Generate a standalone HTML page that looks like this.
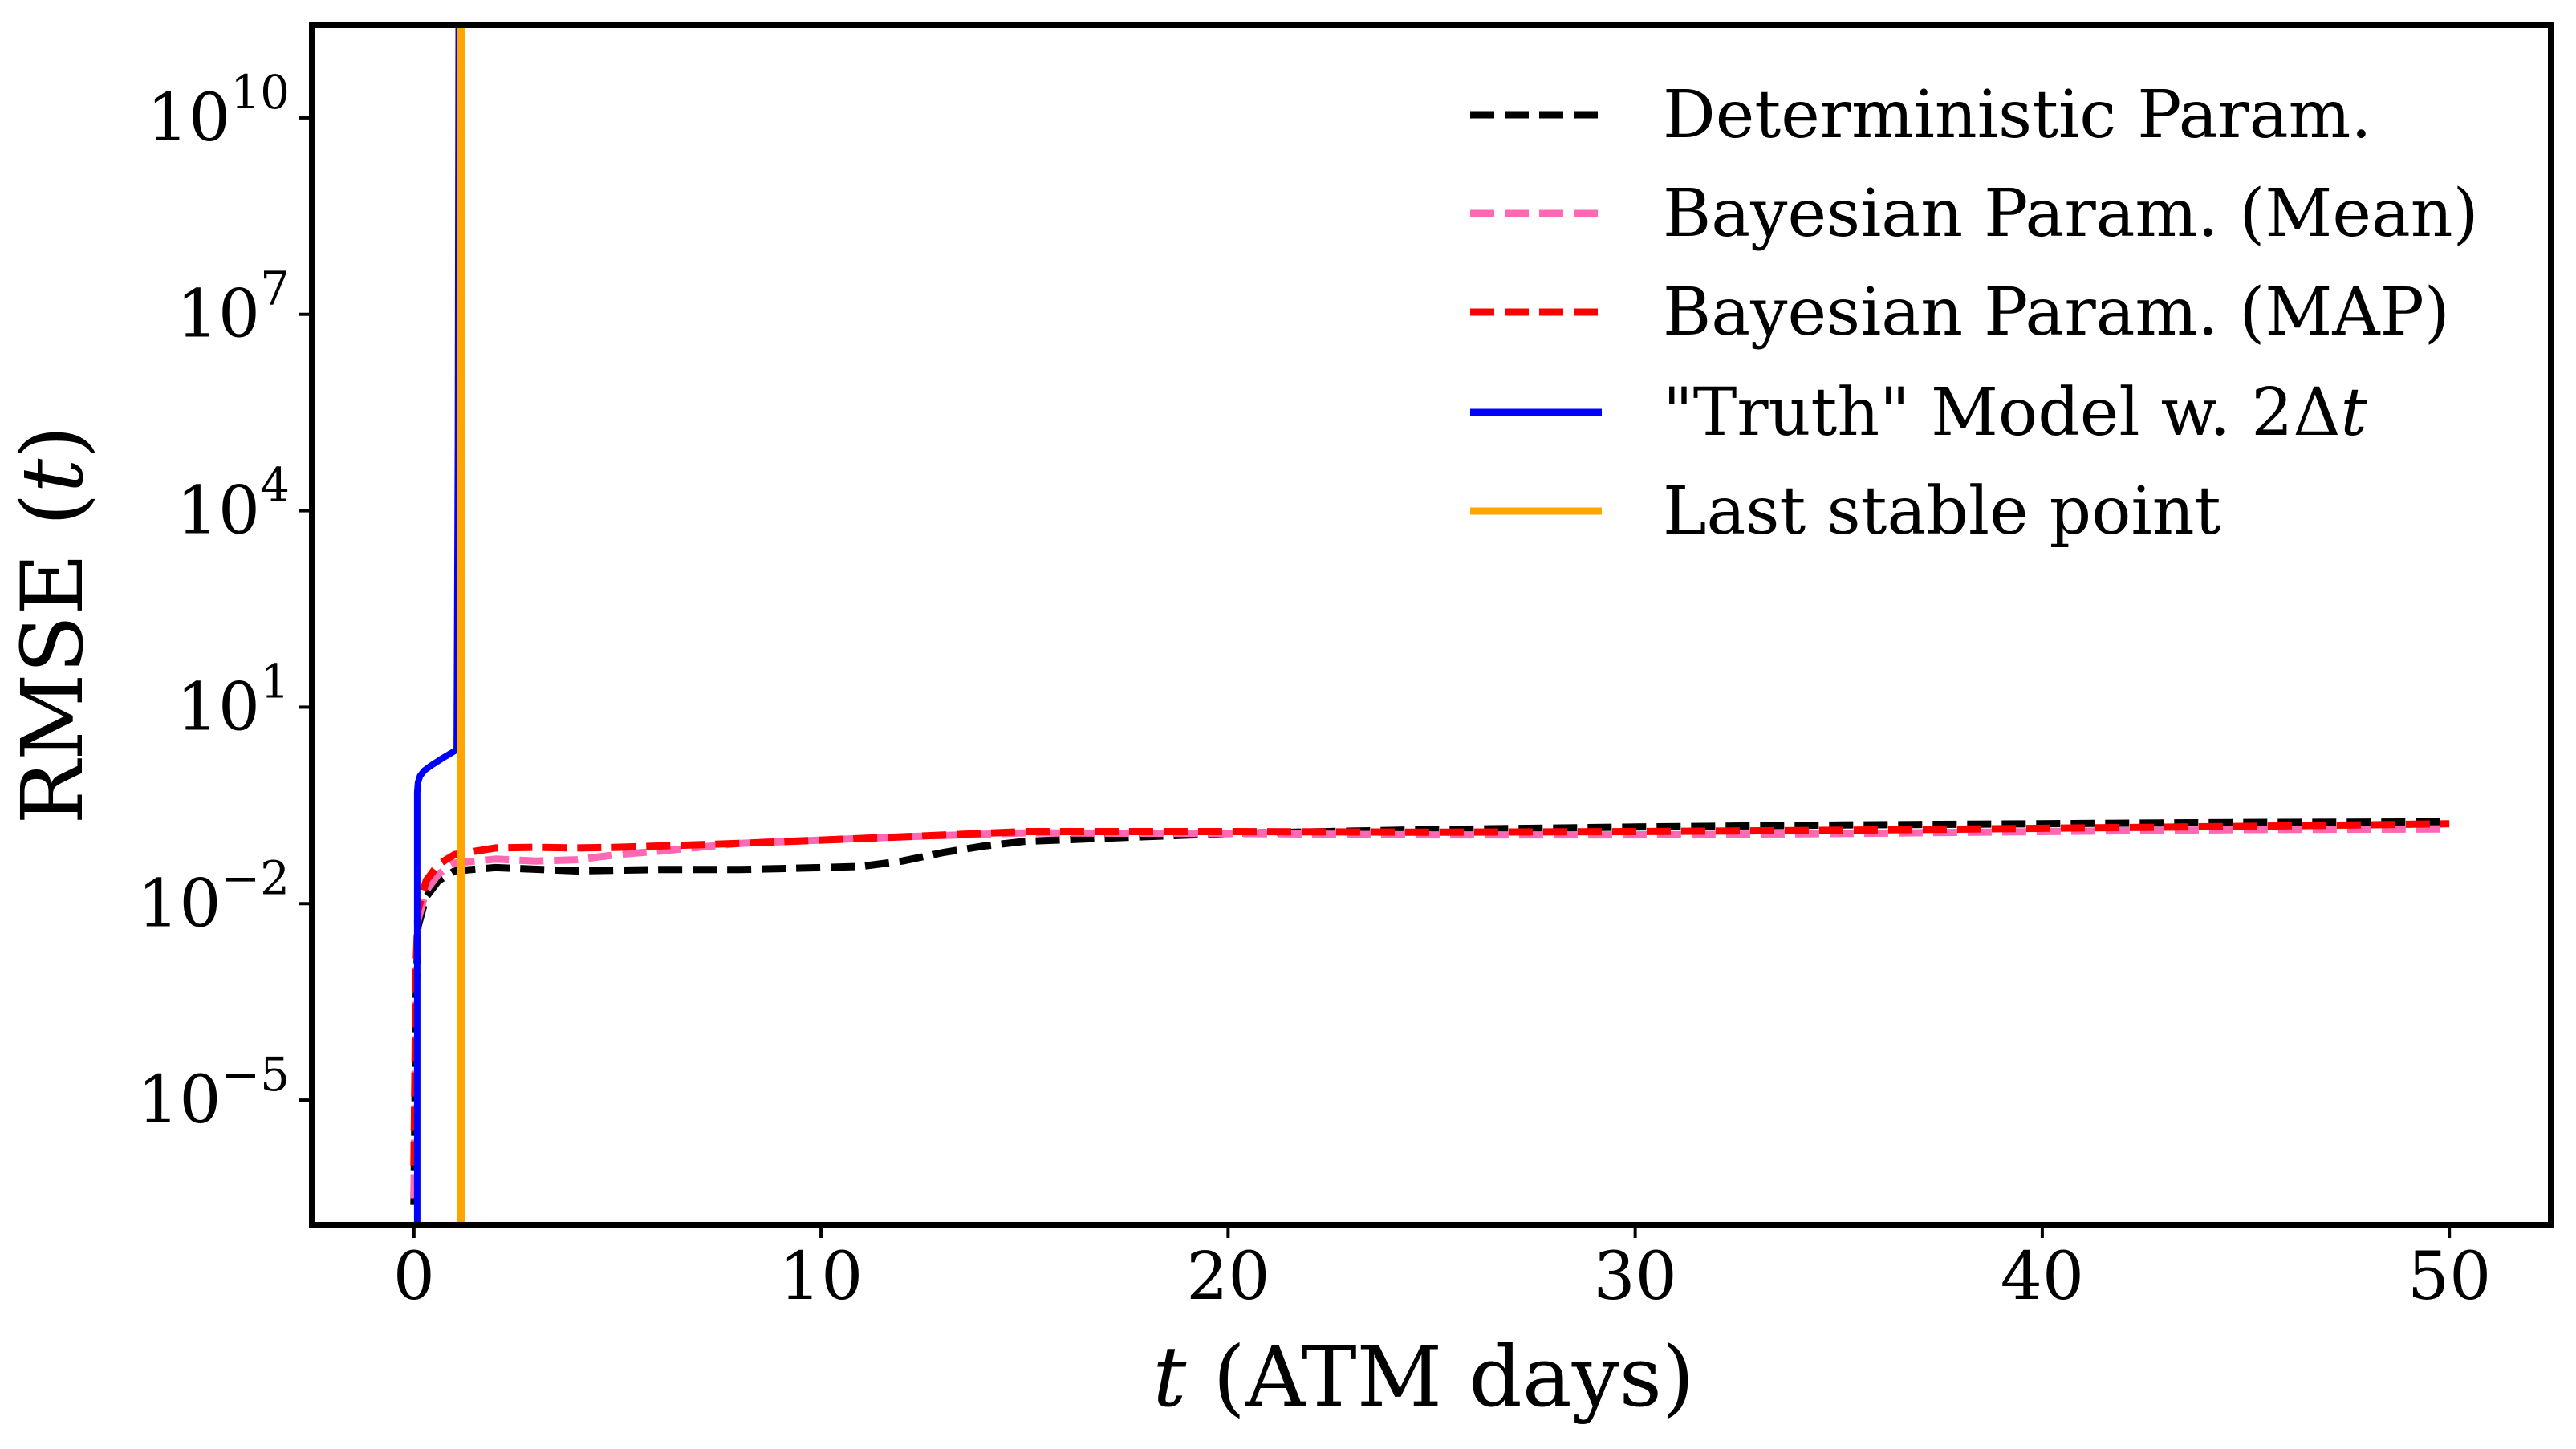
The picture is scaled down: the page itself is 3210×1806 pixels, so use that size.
<!DOCTYPE html>
<html><head><meta charset="utf-8">
<style>
html,body{margin:0;padding:0;background:#fff;}
svg{display:block;}
text{font-family:"DejaVu Serif","Liberation Serif",serif;fill:#000;}
</style></head>
<body>
<svg id="chart" width="3210" height="1806" viewBox="0 0 3210 1806" xmlns="http://www.w3.org/2000/svg">
<g id="plot"></g>
<g id="axes"></g>
<g id="legend"></g>
</svg>
<script>
const xTicks = [0,10,20,30,40,50];
const yTickExps = [10,7,4,1,-2,-5];
const detT = [0,0.05,0.1,0.3,0.6,1,2,4,6,8,10,11,12,13,14,15,17,20,25,30,35,40,45,50];
const detV = [-6.6,-3.5,-2.35,-1.9,-1.65,-1.5,-1.45,-1.5,-1.48,-1.48,-1.45,-1.43,-1.35,-1.22,-1.12,-1.05,-1.0,-0.93,-0.87,-0.83,-0.8,-0.78,-0.76,-0.75];
const meanT = [0,0.05,0.1,0.3,0.6,1,2,3,4,5,6,8,10,12,15,20,25,30,35,40,45,50];
const meanV = [-6.5,-3.2,-2.25,-1.8,-1.55,-1.38,-1.32,-1.35,-1.33,-1.25,-1.2,-1.08,-1.03,-0.98,-0.92,-0.93,-0.95,-0.95,-0.93,-0.9,-0.87,-0.86];
const mapT = [0,0.05,0.1,0.3,0.6,1,2,3,4,5,6,8,10,12,15,20,25,30,35,40,45,50];
const mapV = [-6.0,-3.0,-2.1,-1.65,-1.4,-1.25,-1.15,-1.14,-1.15,-1.14,-1.12,-1.08,-1.03,-0.98,-0.9,-0.9,-0.91,-0.9,-0.88,-0.85,-0.82,-0.78];
const truthT = [0.08,0.08,0.1,0.15,0.25,0.4,0.7,1.05,1.08,1.1];
const truthV = [-8,-0.3,-0.15,-0.05,0.03,0.1,0.22,0.35,5,12];
const lastStable = [1.15];
const labels = ['Deterministic Param.','Bayesian Param. (Mean)','Bayesian Param. (MAP)','"Truth" Model w. 2\u0394','Last stable point'];

const L=389,R=3179,T=31,B=1527;
const xMin=-2.5,xMax=52.5,yMin=-6.91,yMax=11.42;
const sx=v=>L+(v-xMin)/(xMax-xMin)*(R-L);
const sy=v=>B-(v-yMin)/(yMax-yMin)*(B-T);
const NS='http://www.w3.org/2000/svg';
function mk(tag,attrs,parent){const e=document.createElementNS(NS,tag);for(const k in attrs)e.setAttribute(k,attrs[k]);parent.appendChild(e);return e;}
const plot=document.getElementById('plot'),axes=document.getElementById('axes'),legend=document.getElementById('legend');
mk('clipPath',{id:'clip'},plot);
mk('rect',{x:L,y:T,width:R-L,height:B-T},document.getElementById('clip'));
const pg=mk('g',{'clip-path':'url(#clip)'},plot);
function line(ts,vs,color,dash,name,w){
  const d=ts.map((t,i)=>(i?'L':'M')+sx(t).toFixed(1)+','+sy(vs[i]).toFixed(1)).join(' ');
  const p=mk('path',{d:d,fill:'none',stroke:color,'stroke-width':w,'stroke-linejoin':'round'},pg);
  if(dash)p.setAttribute('stroke-dasharray',dash);
  
  
}
line(detT,detV,'#000','30 13','deterministic-line',9);
line(meanT,meanV,'#ff69b4','30 13','bayesian-mean-line',9);
line(mapT,mapV,'#ff0000','30 13','bayesian-map-line',9);
line(truthT,truthV,'#0000ff','','truth-model-line',8);
const ol=mk('line',{x1:sx(lastStable[0]),x2:sx(lastStable[0]),y1:T,y2:B,stroke:'#ffa500','stroke-width':10},pg);


const fr=mk('rect',{x:L,y:T,width:R-L,height:B-T,fill:'none',stroke:'#000','stroke-width':8},axes);


xTicks.forEach(v=>{
  const x=sx(v);
  mk('line',{x1:x,x2:x,y1:B,y2:B+16,stroke:'#000','stroke-width':4},axes);
  const t=mk('text',{x:x,y:B+92,'font-size':82,'text-anchor':'middle'},axes);
  t.textContent=v;
  
  
});
yTickExps.forEach(v=>{
  const y=sy(v);
  mk('line',{x1:L-16,x2:L,y1:y,y2:y,stroke:'#000','stroke-width':4},axes);
  const t=mk('text',{x:L-28,y:y+28,'font-size':82,'text-anchor':'end'},axes);
  
  
  const a=mk('tspan',{},t);a.textContent='10';
  const b=mk('tspan',{dy:-40,'font-size':58},t);b.textContent=(v<0?'\u2212'+(-v):v);
});
const xl=mk('text',{x:(L+R)/2-10,y:1752,'font-size':104,'text-anchor':'middle'},axes);


const xi=mk('tspan',{'font-style':'italic'},xl);xi.textContent='t';
const xr=mk('tspan',{},xl);xr.textContent=' (ATM days)';
const yl=mk('text',{x:0,y:0,'font-size':106,'text-anchor':'middle',transform:'translate(102,779) rotate(-90)'},axes);


const y1=mk('tspan',{},yl);y1.textContent='RMSE (';
const y2=mk('tspan',{'font-style':'italic'},yl);y2.textContent='t';
const y3=mk('tspan',{},yl);y3.textContent=')';
const lc=['#000','#ff69b4','#ff0000','#0000ff','#ffa500'];
const ld=['30 13','30 13','30 13','',''];
const lrows=[143,266,389,514,637];
labels.forEach((s,i)=>{
  const y=lrows[i];
  const l=mk('line',{x1:1832,x2:1996,y1:y,y2:y,stroke:lc[i],'stroke-width':9},legend);
  if(ld[i])l.setAttribute('stroke-dasharray',ld[i]);
  
  
  const t=mk('text',{x:2072,y:y+28,'font-size':82},legend);
  t.textContent=s;
  if(i===3){const it=mk('tspan',{'font-style':'italic'},t);it.textContent='t';}
  
  
});
</script>
</body></html>
